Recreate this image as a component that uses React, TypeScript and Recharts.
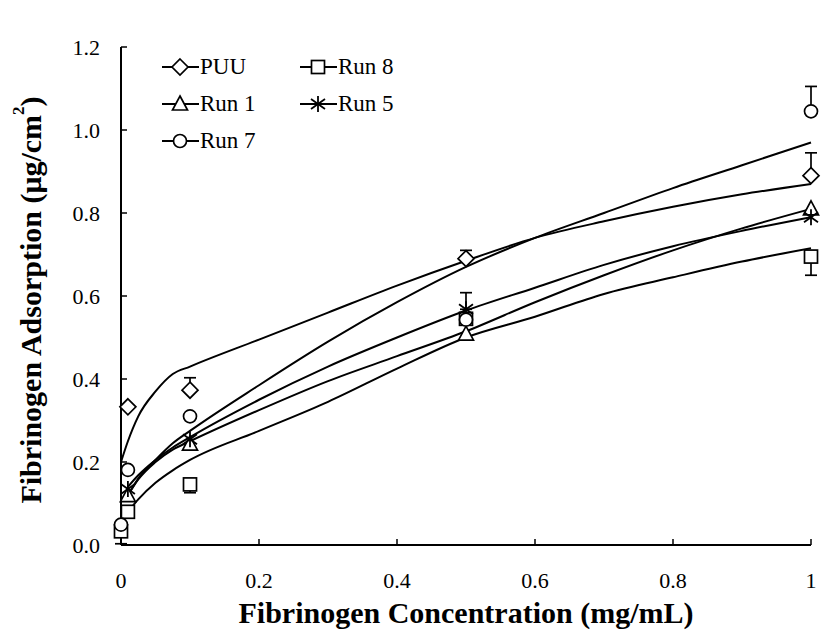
import { ComposedChart, Line, Scatter, ErrorBar, XAxis, YAxis, Legend } from 'recharts';

const serif = '"Liberation Serif", "Times New Roman", serif';

// fitted curves
const fitX = [0, 0.01, 0.025, 0.05, 0.075, 0.1, 0.2, 0.3, 0.4, 0.5, 0.6, 0.7, 0.8, 0.9, 1];
const puuFit = [0.2, 0.25, 0.31, 0.37, 0.412, 0.43, 0.495, 0.56, 0.625, 0.685, 0.74, 0.78, 0.815, 0.845, 0.87];
const run7Fit = [null, 0.12, 0.16, 0.205, 0.245, 0.275, 0.385, 0.49, 0.585, 0.67, 0.74, 0.8, 0.86, 0.915, 0.97];
const run5Fit = [null, 0.14, 0.168, 0.205, 0.235, 0.26, 0.35, 0.43, 0.5, 0.565, 0.62, 0.675, 0.72, 0.757, 0.79];
const run1Fit = [null, 0.12, 0.158, 0.2, 0.23, 0.25, 0.325, 0.395, 0.455, 0.515, 0.585, 0.65, 0.71, 0.763, 0.81];
const run8Fit = [null, 0.08, 0.11, 0.15, 0.18, 0.205, 0.275, 0.345, 0.425, 0.5, 0.55, 0.605, 0.645, 0.683, 0.715];

// measured points
const pointX = [0, 0.01, 0.1, 0.5, 1];
const puuPts = [null, 0.333, 0.373, 0.69, 0.89];
const run1Pts = [null, 0.119, 0.243, 0.508, 0.81];
const run5Pts = [null, 0.135, 0.255, 0.568, 0.79];
const run7Pts = [0.049, 0.181, 0.31, 0.543, 1.045];
const run8Pts = [0.033, 0.08, 0.146, 0.545, 0.695];

// error bars as [down, up]
const puuErr = [null, null, [0, 0.03], [0, 0.02], [0, 0.055]];
const run1Err = [null, null, null, null, null];
const run5Err = [null, null, null, [0, 0.04], null];
const run7Err = [null, null, null, null, [0, 0.06]];
const run8Err = [[0.03, 0], null, [0.02, 0], null, [0.045, 0]];

const xTicks = [0, 0.2, 0.4, 0.6, 0.8, 1];
const yTicks = [0, 0.2, 0.4, 0.6, 0.8, 1.0, 1.2];

const fitData = (ys: (number | null)[]) => fitX.map((x, i) => ({ x, y: ys[i] }));
const pointData = (ys: (number | null)[], errs: (number[] | null)[]) =>
  pointX.map((x, i) => ({ x, y: ys[i], err: errs[i] })).filter((d) => d.y != null);

const Marker = ({ kind, cx, cy }: { kind: string; cx: number; cy: number }) => {
  const s = 6.5;
  const st = { stroke: '#000', strokeWidth: 1.7, fill: '#fff' };
  if (kind === 'diamond')
    return <polygon points={`${cx},${cy - 8} ${cx + 8},${cy} ${cx},${cy + 8} ${cx - 8},${cy}`} {...st} />;
  if (kind === 'square') return <rect x={cx - s} y={cy - s} width={2 * s} height={2 * s} {...st} />;
  if (kind === 'triangle')
    return <polygon points={`${cx},${cy - 8} ${cx + 7.5},${cy + 6} ${cx - 7.5},${cy + 6}`} {...st} />;
  if (kind === 'circle') return <circle cx={cx} cy={cy} r={s} {...st} />;
  return (
    <g stroke="#000" strokeWidth={1.8}>
      <line x1={cx} y1={cy - 8} x2={cx} y2={cy + 8} />
      <line x1={cx - 7} y1={cy - 5} x2={cx + 7} y2={cy + 5} />
      <line x1={cx - 7} y1={cy + 5} x2={cx + 7} y2={cy - 5} />
    </g>
  );
};

const shape = (kind: string) => (p: any) => <Marker kind={kind} cx={p.cx} cy={p.cy} />;

const legendItems = [
  { name: 'PUU', kind: 'diamond' },
  { name: 'Run 8', kind: 'square' },
  { name: 'Run 1', kind: 'triangle' },
  { name: 'Run 5', kind: 'star' },
  { name: 'Run 7', kind: 'circle' },
];

const LegendBox = () => (
  <div style={{ display: 'grid', gridTemplateColumns: '138px 150px' }}>
    {legendItems.map((it) => (
      <div key={it.name} style={{ display: 'flex', alignItems: 'center', height: 37 }}>
        <svg width={37} height={20} style={{ overflow: 'visible' }}>
          <line x1={0} y1={10} x2={37} y2={10} stroke="#000" strokeWidth={1.8} />
          <Marker kind={it.kind} cx={18} cy={10} />
        </svg>
        <span style={{ fontFamily: serif, fontSize: 23, color: '#000', marginLeft: 1 }}>{it.name}</span>
      </div>
    ))}
  </div>
);

const YTitle = (props: any) => {
  const { viewBox } = props;
  const cx = 30;
  const cy = viewBox.y + viewBox.height / 2 + 4;
  return (
    <text
      x={cx}
      y={cy}
      transform={`rotate(-90, ${cx}, ${cy})`}
      textAnchor="middle"
      dominantBaseline="central"
      fontFamily={serif}
      fontWeight="bold"
      fontSize={30}
      fill="#000"
    >
      Fibrinogen Adsorption (μg/cm
      <tspan fontSize={17} dy={-12}>2</tspan>
      <tspan dy={12}>)</tspan>
    </text>
  );
};

const XTitle = (props: any) => {
  const { viewBox } = props;
  return (
    <text
      x={viewBox.x + viewBox.width / 2}
      y={612}
      textAnchor="middle"
      dominantBaseline="central"
      fontFamily={serif}
      fontWeight="bold"
      fontSize={30}
      fill="#000"
    >
      Fibrinogen Concentration (mg/mL)
    </text>
  );
};

const tickStyle = { fill: '#000', fontFamily: serif, fontSize: 22 };

export default function App() {
  return (
    <div style={{ position: 'absolute', left: 0, top: 0, background: '#fff' }}>
      <ComposedChart width={840} height={630} margin={{ top: 47, right: 29, left: 0, bottom: 0 }}>
        <XAxis
          type="number"
          dataKey="x"
          domain={[0, 1]}
          ticks={xTicks}
          interval={0}
          height={85}
          tickSize={-6}
          tickMargin={33}
          tick={tickStyle}
          tickFormatter={(v: number) => String(v)}
          axisLine={{ stroke: '#000', strokeWidth: 2 }}
          tickLine={{ stroke: '#000', strokeWidth: 1.5 }}
          label={<XTitle />}
        />
        <YAxis
          type="number"
          domain={[0, 1.2]}
          ticks={yTicks}
          interval={0}
          width={121}
          tickSize={-6}
          tickMargin={27}
          tick={tickStyle}
          tickFormatter={(v: number) => v.toFixed(1)}
          axisLine={{ stroke: '#000', strokeWidth: 2 }}
          tickLine={{ stroke: '#000', strokeWidth: 1.5 }}
          label={<YTitle />}
        />
        <Legend
          layout="vertical"
          align="center"
          verticalAlign="middle"
          wrapperStyle={{ left: 162, top: 48, width: 300 }}
          content={() => <LegendBox />}
        />
        <Line data={fitData(puuFit)} dataKey="y" type="monotone" stroke="#000" strokeWidth={2} dot={false} isAnimationActive={false} name="PUU fit" />
        <Line data={fitData(run7Fit)} dataKey="y" type="monotone" stroke="#000" strokeWidth={2} dot={false} isAnimationActive={false} name="Run 7 fit" />
        <Line data={fitData(run5Fit)} dataKey="y" type="monotone" stroke="#000" strokeWidth={2} dot={false} isAnimationActive={false} name="Run 5 fit" />
        <Line data={fitData(run1Fit)} dataKey="y" type="monotone" stroke="#000" strokeWidth={2} dot={false} isAnimationActive={false} name="Run 1 fit" />
        <Line data={fitData(run8Fit)} dataKey="y" type="monotone" stroke="#000" strokeWidth={2} dot={false} isAnimationActive={false} name="Run 8 fit" />
        <Scatter data={pointData(run8Pts, run8Err)} dataKey="y" shape={shape('square')} isAnimationActive={false} name="Run 8">
          <ErrorBar dataKey="err" direction="y" width={6} stroke="#000" strokeWidth={1.7} />
        </Scatter>
        <Scatter data={pointData(run1Pts, run1Err)} dataKey="y" shape={shape('triangle')} isAnimationActive={false} name="Run 1" />
        <Scatter data={pointData(run5Pts, run5Err)} dataKey="y" shape={shape('star')} isAnimationActive={false} name="Run 5">
          <ErrorBar dataKey="err" direction="y" width={6} stroke="#000" strokeWidth={1.7} />
        </Scatter>
        <Scatter data={pointData(run7Pts, run7Err)} dataKey="y" shape={shape('circle')} isAnimationActive={false} name="Run 7">
          <ErrorBar dataKey="err" direction="y" width={6} stroke="#000" strokeWidth={1.7} />
        </Scatter>
        <Scatter data={pointData(puuPts, puuErr)} dataKey="y" shape={shape('diamond')} isAnimationActive={false} name="PUU">
          <ErrorBar dataKey="err" direction="y" width={6} stroke="#000" strokeWidth={1.7} />
        </Scatter>
      </ComposedChart>
    </div>
  );
}
